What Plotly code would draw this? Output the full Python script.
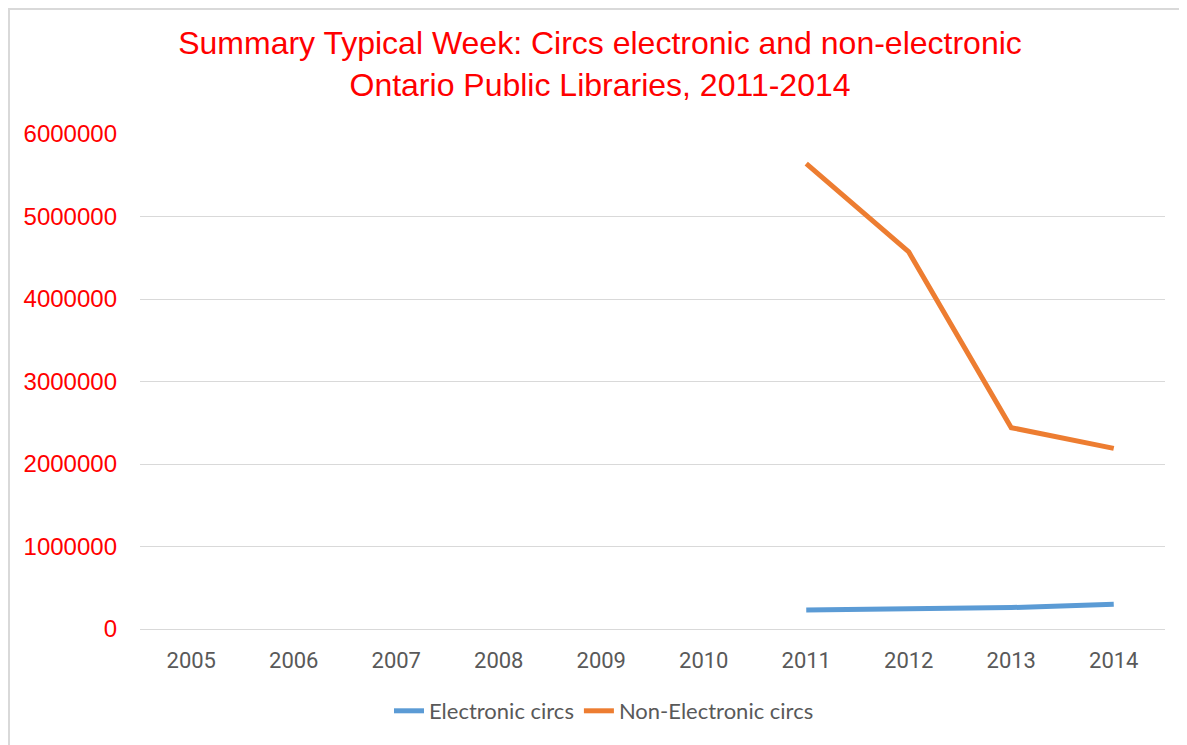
import plotly.graph_objects as go

years = ["2005", "2006", "2007", "2008", "2009", "2010", "2011", "2012", "2013", "2014"]
electronic = [None, None, None, None, None, None, 230000, 240000, 260000, 300000]
non_electronic = [None, None, None, None, None, None, 5640000, 4570000, 2440000, 2190000]
y_ticks = [0, 1000000, 2000000, 3000000, 4000000, 5000000, 6000000]

fig = go.Figure()
fig.add_trace(go.Scatter(x=years, y=electronic, mode="lines", name="Electronic circs",
                         line=dict(color="#5B9BD5", width=5)))
fig.add_trace(go.Scatter(x=years, y=non_electronic, mode="lines", name="Non-Electronic circs",
                         line=dict(color="#ED7D31", width=5)))

OFF = 8  # page body margin
W, H = 1187, 745
L, T = 140 - OFF, 134 - OFF
R = W - (1165 - OFF)
B = H - (629 - OFF)
pw, ph = W - L - R, H - T - B

def px_x(x):
    return (x - OFF - L) / pw

def px_y(y):
    return (H - B - (y - OFF)) / ph

fig.update_layout(
    width=W, height=H,
    margin=dict(l=L, r=R, t=T, b=B),
    paper_bgcolor="white", plot_bgcolor="white",
    title=dict(text="Summary Typical Week: Circs electronic and non-electronic<br>Ontario Public Libraries, 2011-2014",
               x=(600 - OFF) / W, xanchor="center", y=1 - (54 - OFF) / H, yanchor="middle",
               font=dict(family="Liberation Sans, Arial", size=32, color="#FF0000")),
    showlegend=True,
    legend=dict(orientation="h", x=px_x(604), xanchor="center",
                y=px_y(711), yanchor="middle",
                font=dict(family="Lato, Roboto", size=22, color="#595959")),
    xaxis=dict(type="category", categoryorder="array", categoryarray=years,
               showgrid=False, showline=True, linecolor="#D9D9D9", linewidth=1,
               ticks="", ticklabelstandoff=12,
               tickfont=dict(family="Roboto", size=22, color="#595959"),
               range=[-0.5, 9.5], fixedrange=True),
    yaxis=dict(range=[0, 6000000], tickvals=y_ticks, tickformat="d",
               showgrid=True, gridcolor="#D9D9D9", gridwidth=1, zeroline=False,
               showline=False, ticks="", ticklabelstandoff=22,
               tickfont=dict(family="Liberation Sans, Arial", size=24, color="#FF0000")),
)

fig.add_shape(type="rect", xref="paper", yref="paper",
              x0=px_x(9), x1=px_x(1190),
              y0=px_y(750), y1=px_y(9),
              line=dict(color="#D9D9D9", width=2), fillcolor="rgba(0,0,0,0)", layer="below")

fig.write_html("out.html")
